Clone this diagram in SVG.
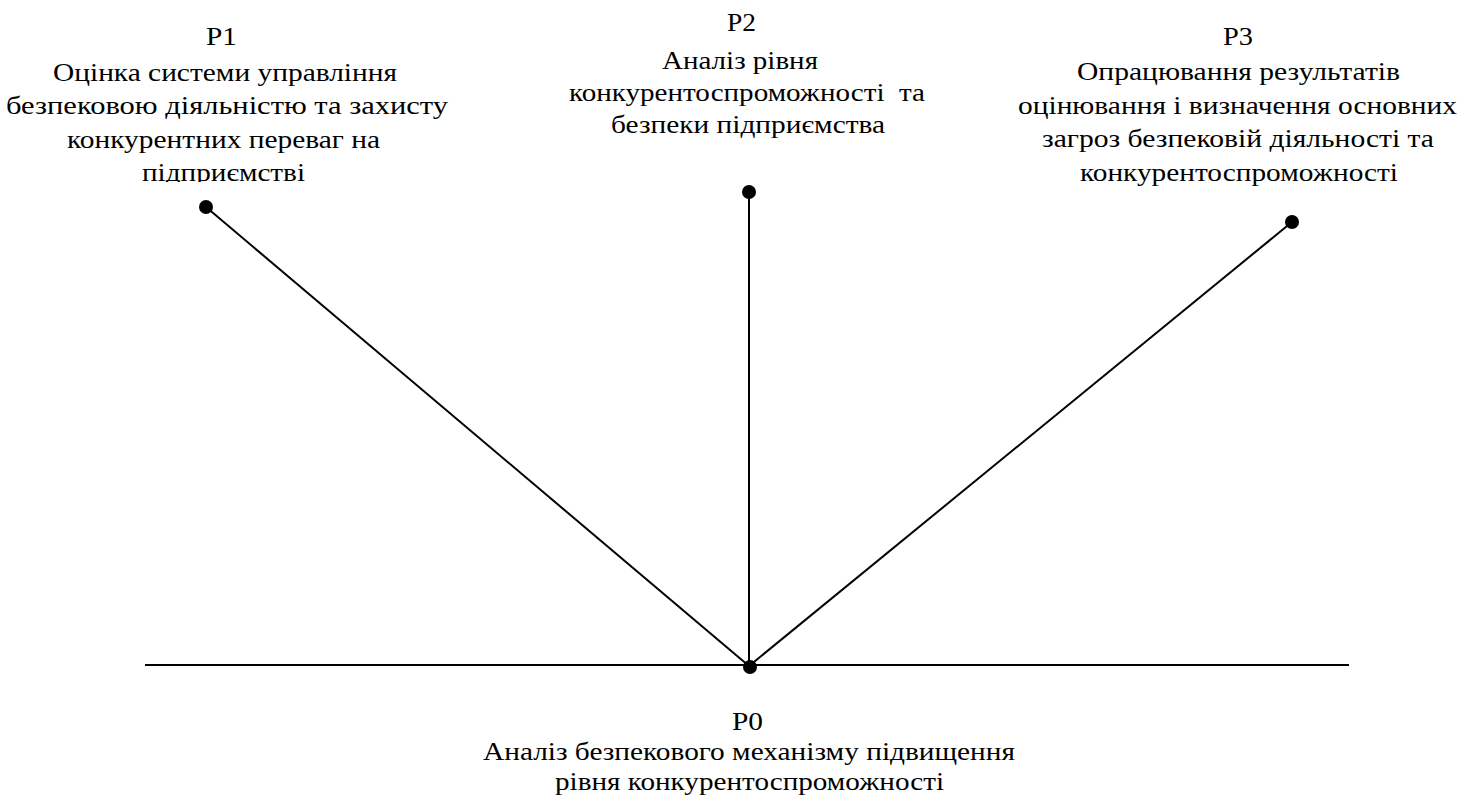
<svg xmlns="http://www.w3.org/2000/svg" width="1474" height="801" viewBox="0 0 1474 801">
  <defs>
    <clipPath id="p1clip"><rect x="0" y="0" width="480" height="182"/></clipPath>
  </defs>
  <rect width="1474" height="801" fill="#fff"/>

  <g id="connectors" stroke="#000" stroke-width="2" fill="none">
    <line x1="145" y1="665" x2="1349" y2="665"/>
    <line x1="206" y1="207" x2="749" y2="666"/>
    <line x1="749" y1="192" x2="749" y2="666"/>
    <line x1="1292" y1="222" x2="749" y2="666"/>
  </g>

  <g id="P1">
    <circle cx="206" cy="207" r="7" fill="#000"/>
    <g clip-path="url(#p1clip)">
      <text x="206" y="45" font-family="Liberation Serif" style="font-family:'Liberation Serif'" font-size="26" textLength="31" lengthAdjust="spacingAndGlyphs">P1</text>
      <text x="53" y="81" font-family="Liberation Serif" style="font-family:'Liberation Serif'" font-size="26" textLength="344" lengthAdjust="spacingAndGlyphs">Оцінка системи управління</text>
      <text x="6" y="114" font-family="Liberation Serif" style="font-family:'Liberation Serif'" font-size="26" textLength="442" lengthAdjust="spacingAndGlyphs">безпековою діяльністю та захисту</text>
      <text x="67" y="148" font-family="Liberation Serif" style="font-family:'Liberation Serif'" font-size="26" textLength="313" lengthAdjust="spacingAndGlyphs">конкурентних переваг на</text>
      <text x="142" y="181" font-family="Liberation Serif" style="font-family:'Liberation Serif'" font-size="26" textLength="163" lengthAdjust="spacingAndGlyphs">підприємстві</text>
    </g>
  </g>

  <g id="P2">
    <circle cx="749" cy="192" r="7" fill="#000"/>
    <text x="727" y="31" font-family="Liberation Serif" style="font-family:'Liberation Serif'" font-size="26" textLength="29" lengthAdjust="spacingAndGlyphs">P2</text>
    <text x="662" y="69" font-family="Liberation Serif" style="font-family:'Liberation Serif'" font-size="26" textLength="156" lengthAdjust="spacingAndGlyphs">Аналіз рівня</text>
    <text x="569" y="101" font-family="Liberation Serif" style="font-family:'Liberation Serif'" font-size="26" textLength="356" lengthAdjust="spacingAndGlyphs" xml:space="preserve">конкурентоспроможності  та</text>
    <text x="611" y="133" font-family="Liberation Serif" style="font-family:'Liberation Serif'" font-size="26" textLength="274" lengthAdjust="spacingAndGlyphs">безпеки підприємства</text>
  </g>

  <g id="P3">
    <circle cx="1292" cy="222" r="7" fill="#000"/>
    <text x="1223" y="45" font-family="Liberation Serif" style="font-family:'Liberation Serif'" font-size="26" textLength="30" lengthAdjust="spacingAndGlyphs">P3</text>
    <text x="1077" y="80" font-family="Liberation Serif" style="font-family:'Liberation Serif'" font-size="26" textLength="323" lengthAdjust="spacingAndGlyphs">Опрацювання результатів</text>
    <text x="1018" y="114" font-family="Liberation Serif" style="font-family:'Liberation Serif'" font-size="26" textLength="439" lengthAdjust="spacingAndGlyphs">оцінювання і визначення основних</text>
    <text x="1042" y="147" font-family="Liberation Serif" style="font-family:'Liberation Serif'" font-size="26" textLength="392" lengthAdjust="spacingAndGlyphs">загроз безпековій діяльності та</text>
    <text x="1080" y="181" font-family="Liberation Serif" style="font-family:'Liberation Serif'" font-size="26" textLength="318" lengthAdjust="spacingAndGlyphs">конкурентоспроможності</text>
  </g>

  <g id="P0">
    <circle cx="750" cy="667" r="7" fill="#000"/>
    <text x="732" y="730" font-family="Liberation Serif" style="font-family:'Liberation Serif'" font-size="26" textLength="31" lengthAdjust="spacingAndGlyphs">P0</text>
    <text x="483" y="760" font-family="Liberation Serif" style="font-family:'Liberation Serif'" font-size="26" textLength="532" lengthAdjust="spacingAndGlyphs">Аналіз безпекового механізму підвищення</text>
    <text x="555" y="790" font-family="Liberation Serif" style="font-family:'Liberation Serif'" font-size="26" textLength="389" lengthAdjust="spacingAndGlyphs">рівня конкурентоспроможності</text>
  </g>
</svg>
